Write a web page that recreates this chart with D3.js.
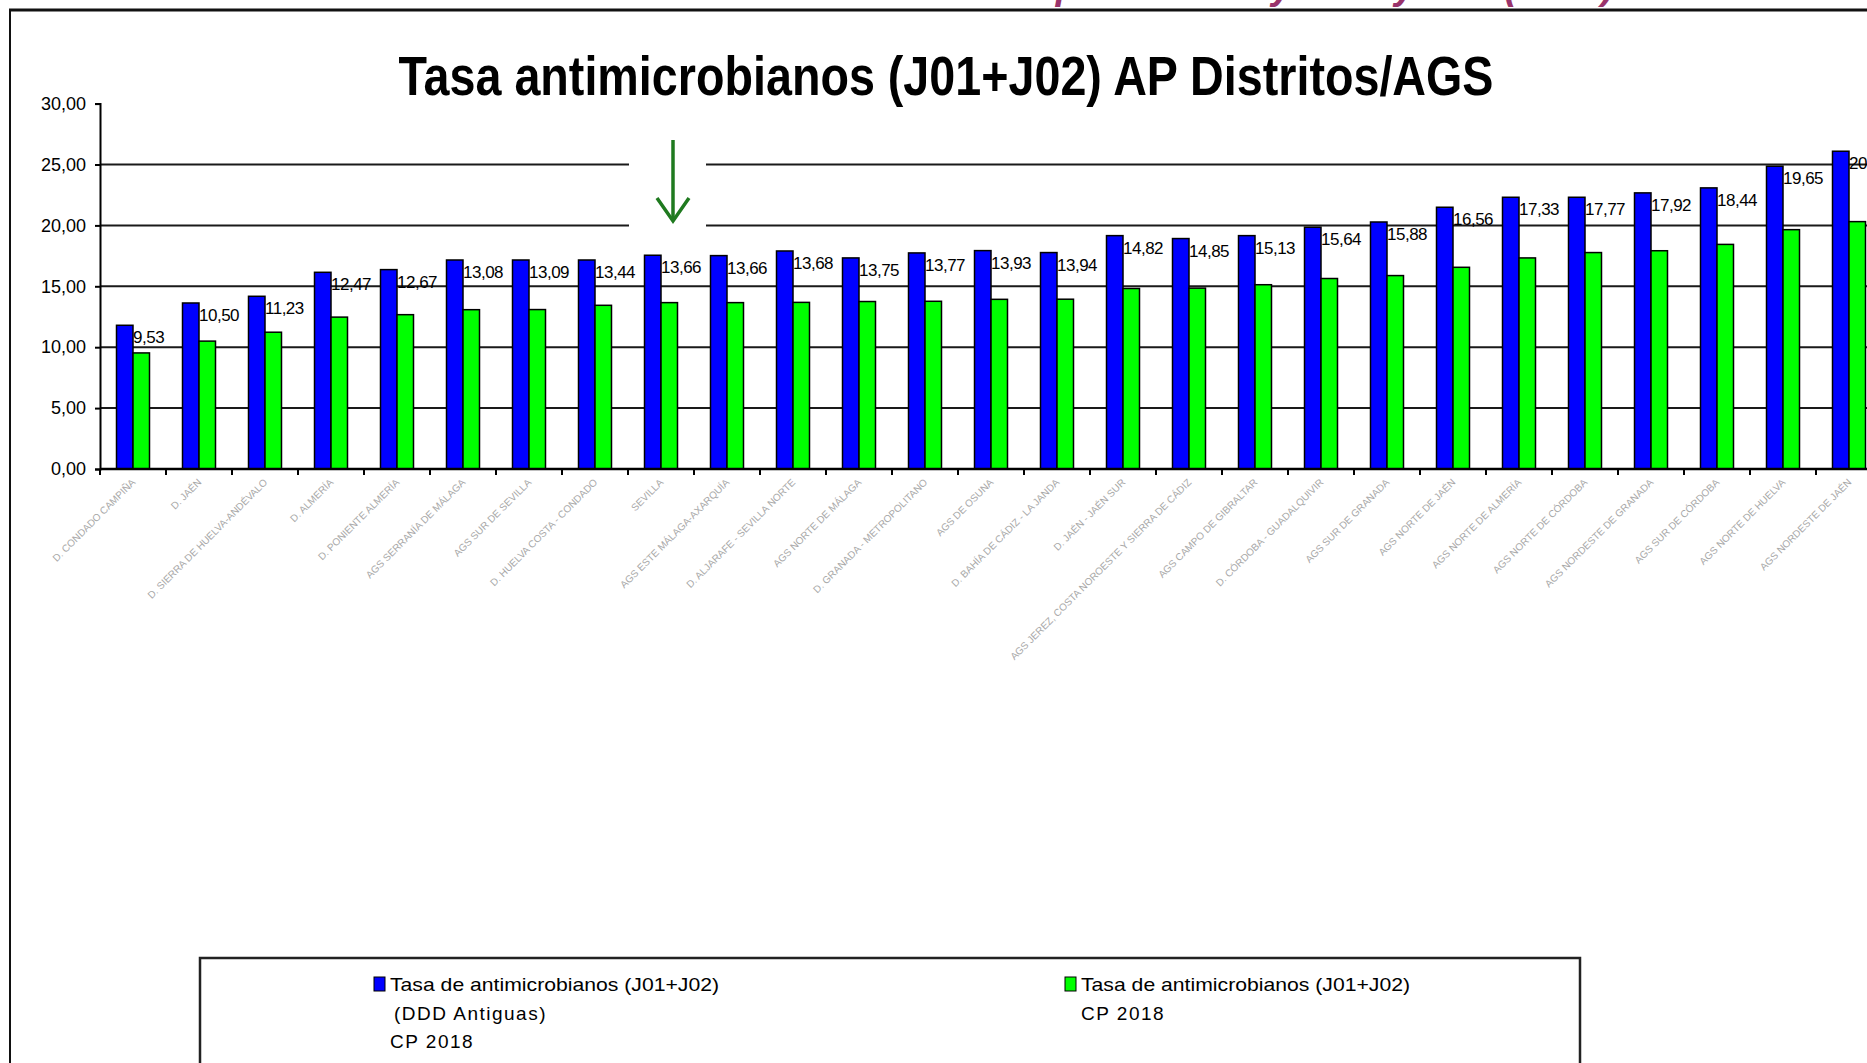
<!DOCTYPE html>
<html>
  <head>
    <meta charset="utf-8" />
    <script src="https://cdn.jsdelivr.net/npm/d3@7/dist/d3.min.js"></script>
    <style>
      body {
        margin: 0;
        background: white;
        overflow: hidden;
      }
      svg {
        display: block;
        font-family: "Liberation Sans", Arial, sans-serif;
      }
    </style>
  </head>
  <body>
    <svg id="chart"></svg>
    <script>
      // labels under the axis are tiny and blurred in the source, best guesses
      const categories = [
        "D. CONDADO CAMPIÑA",
        "D. JAÉN",
        "D. SIERRA DE HUELVA-ANDÉVALO",
        "D. ALMERÍA",
        "D. PONIENTE ALMERÍA",
        "AGS SERRANÍA DE MÁLAGA",
        "AGS SUR DE SEVILLA",
        "D. HUELVA COSTA - CONDADO",
        "SEVILLA",
        "AGS ESTE MÁLAGA-AXARQUÍA",
        "D. ALJARAFE - SEVILLA NORTE",
        "AGS NORTE DE MÁLAGA",
        "D. GRANADA - METROPOLITANO",
        "AGS DE OSUNA",
        "D. BAHÍA DE CÁDIZ - LA JANDA",
        "D. JAÉN - JAÉN SUR",
        "AGS JEREZ, COSTA NOROESTE Y SIERRA DE CÁDIZ",
        "AGS CAMPO DE GIBRALTAR",
        "D. CÓRDOBA - GUADALQUIVIR",
        "AGS SUR DE GRANADA",
        "AGS NORTE DE JAÉN",
        "AGS NORTE DE ALMERÍA",
        "AGS NORTE DE CÓRDOBA",
        "AGS NORDESTE DE GRANADA",
        "AGS SUR DE CÓRDOBA",
        "AGS NORTE DE HUELVA",
        "AGS NORDESTE DE JAÉN"
      ];

      // DDD antiguas (blue)
      const ddAntiguas = [
        11.8, 13.63, 14.18, 16.15, 16.37, 17.16, 17.16, 17.16, 17.55, 17.52,
        17.9, 17.33, 17.74, 17.93, 17.77, 19.16, 18.92, 19.16, 19.85, 20.28,
        21.49, 22.31, 22.31, 22.67, 23.08, 24.86, 26.09
      ];

      // CP 2018 (green), these carry the printed labels
      const cp2018 = [
        9.53, 10.5, 11.23, 12.47, 12.67, 13.08, 13.09, 13.44, 13.66, 13.66,
        13.68, 13.75, 13.77, 13.93, 13.94, 14.82, 14.85, 15.13, 15.64, 15.88,
        16.56, 17.33, 17.77, 17.92, 18.44, 19.65, 20.31
      ];

      const yTicks = [0, 5, 10, 15, 20, 25, 30];
      const gridValues = [5, 10, 15, 20, 25];

      const title = "Tasa antimicrobianos (J01+J02) AP Distritos/AGS";
      const legendBlue = ["Tasa de antimicrobianos (J01+J02)", "(DDD Antiguas)", "CP 2018"];
      const legendGreen = ["Tasa de antimicrobianos (J01+J02)", "CP 2018"];

      const width = 1867,
        height = 1063;

      const blue = "#0000ff",
        green = "#00ff00",
        arrowColor = "#1f7a1f";

      const svg = d3
        .select("#chart")
        .attr("width", width)
        .attr("height", height);

      // cut-off heading from the slide above
      svg
        .append("text")
        .attr("x", 1614)
        .attr("y", -1)
        .attr("text-anchor", "end")
        .style("font-size", "38px")
        .style("font-weight", "bold")
        .style("font-style", "italic")
        .style("fill", "#99336b")
        .text("Consumo de antimicrobianos por Distrito y AGS y año (2018)");

      // frame
      svg
        .append("line")
        .attr("x1", 9)
        .attr("x2", width)
        .attr("y1", 10)
        .attr("y2", 10)
        .style("stroke", "#111")
        .style("stroke-width", 3);
      svg
        .append("line")
        .attr("x1", 10)
        .attr("x2", 10)
        .attr("y1", 9)
        .attr("y2", height)
        .style("stroke", "#111")
        .style("stroke-width", 2);

      svg
        .append("text")
        .attr("x", 946)
        .attr("y", 95)
        .attr("text-anchor", "middle")
        .attr("textLength", 1095)
        .attr("lengthAdjust", "spacingAndGlyphs")
        .style("font-size", "56px")
        .style("font-weight", "bold")
        .text(title);

      const x0 = 100,
        bandW = 66;

      const x = d3
        .scaleBand()
        .domain(categories)
        .range([x0, x0 + bandW * categories.length]);

      const y = d3.scaleLinear().domain([0, 30]).range([469, 103.6]);

      // gridlines
      svg
        .append("g")
        .selectAll("line")
        .data(gridValues)
        .join("line")
        .attr("x1", x0)
        .attr("x2", width)
        .attr("y1", d => y(d))
        .attr("y2", d => y(d))
        .style("stroke", "#1a1a1a")
        .style("stroke-width", 2);

      // white patch behind the arrow
      svg
        .append("rect")
        .attr("x", 629)
        .attr("y", 130)
        .attr("width", 77)
        .attr("height", 98)
        .style("fill", "white");

      const groups = svg
        .append("g")
        .selectAll("g")
        .data(categories)
        .join("g")
        .attr("transform", d => `translate(${x(d)},0)`);

      const barW = x.bandwidth() * 0.25;

      groups
        .append("rect")
        .attr("x", barW)
        .attr("y", (d, i) => y(ddAntiguas[i]))
        .attr("width", barW)
        .attr("height", (d, i) => y(0) - y(ddAntiguas[i]))
        .style("fill", blue)
        .style("stroke", "black")
        .style("stroke-width", 1.5);

      groups
        .append("rect")
        .attr("x", barW * 2)
        .attr("y", (d, i) => y(cp2018[i]))
        .attr("width", barW)
        .attr("height", (d, i) => y(0) - y(cp2018[i]))
        .style("fill", green)
        .style("stroke", "black")
        .style("stroke-width", 1.5);

      const fmt = v => d3.format(".2f")(v).replace(".", ",");

      groups
        .append("text")
        .attr("x", barW * 2)
        .attr("y", (d, i) => y(ddAntiguas[i]) + 18)
        .style("font-size", "17px")
        .style("letter-spacing", "-0.5px")
        .text((d, i) => fmt(cp2018[i]));

      // category labels
      groups
        .append("text")
        .attr("transform", `translate(${x.bandwidth() / 2 + 3},${y(0) + 14}) rotate(-45)`)
        .attr("text-anchor", "end")
        .style("font-size", "10px")
        .style("fill", "#a8a8a8")
        .text(d => d);

      // y axis
      const yAxis = d3
        .axisLeft(y)
        .tickValues(yTicks)
        .tickSize(5)
        .tickPadding(9)
        .tickFormat(fmt);

      const yG = svg
        .append("g")
        .attr("transform", `translate(${x0},0)`)
        .call(yAxis);
      yG.select(".domain").style("stroke", "black").style("stroke-width", 2);
      yG.selectAll(".tick line").style("stroke", "black").style("stroke-width", 2);
      yG
        .selectAll(".tick text")
        .style("font-size", "18px")
        .style("font-family", "'Liberation Sans', Arial, sans-serif")
        .style("fill", "black");

      // x axis line and ticks between groups
      svg
        .append("line")
        .attr("x1", x0)
        .attr("x2", width)
        .attr("y1", y(0))
        .attr("y2", y(0))
        .style("stroke", "black")
        .style("stroke-width", 2.5);

      svg
        .append("g")
        .selectAll("line")
        .data(categories)
        .join("line")
        .attr("x1", d => x(d))
        .attr("x2", d => x(d))
        .attr("y1", y(0))
        .attr("y2", y(0) + 6)
        .style("stroke", "black")
        .style("stroke-width", 2);

      // green arrow
      const arrow = svg
        .append("g")
        .style("stroke", arrowColor)
        .style("stroke-width", 3.5)
        .style("fill", "none");
      arrow
        .append("line")
        .attr("x1", 673)
        .attr("x2", 673)
        .attr("y1", 140)
        .attr("y2", 221);
      arrow
        .append("path")
        .attr("d", "M657,198 L673,221 L689,198");

      // legend
      const legend = svg.append("g");
      legend
        .append("rect")
        .attr("x", 200)
        .attr("y", 958)
        .attr("width", 1380)
        .attr("height", 140)
        .style("fill", "white")
        .style("stroke", "#222")
        .style("stroke-width", 2.5);

      function legendItem(lx, color, lines) {
        legend
          .append("rect")
          .attr("x", lx)
          .attr("y", 977)
          .attr("width", 11)
          .attr("height", 14)
          .style("fill", color)
          .style("stroke", "black")
          .style("stroke-width", 1);

        legend
          .selectAll(null)
          .data(lines)
          .join("text")
          .attr("x", (d, i) => lx + 16 + (d.startsWith("(") ? 4 : 0))
          .attr("y", (d, i) => 991 + i * 28.5)
          .attr("textLength", (d, i) => (i === 0 ? 329 : null))
          .attr("lengthAdjust", "spacingAndGlyphs")
          .style("font-size", "19px")
          .style("letter-spacing", (d, i) => (i === 0 ? null : "1.5px"))
          .text(d => d);
      }

      legendItem(374, blue, legendBlue);
      legendItem(1065, green, legendGreen);
    </script>
  </body>
</html>
